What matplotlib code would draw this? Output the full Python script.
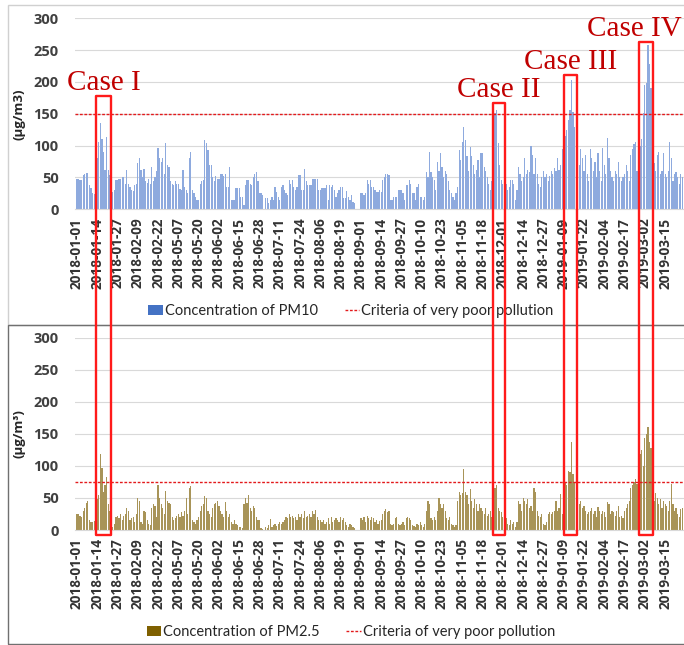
import matplotlib
matplotlib.use('Agg')
import matplotlib.pyplot as plt
import numpy as np
import pandas as pd
from matplotlib.patches import Rectangle, Patch
from matplotlib.lines import Line2D

# ---------------- data ----------------
# category axis: daily dates (March-April 2018 absent from the record)
dates = (list(pd.date_range('2018-01-01', '2018-03-06').strftime('%Y-%m-%d')) +
         list(pd.date_range('2018-05-07', '2019-03-26').strftime('%Y-%m-%d')))

pm10 = [
    48, 48, 46, 46, 54, 55, 57, 57, 38, 33, 25, 24, 46,
    80, 105, 135, 111, 90, 62, 114, 62, 54, 35, 27, 30, 46,
    46, 47, 48, 50, 50, 40, 62, 40, 35, 30, 28, 38, 40,
    72, 80, 62, 50, 64, 45, 42, 48, 40, 67, 45, 50, 60,
    96, 80, 75, 80, 55, 104, 70, 67, 45, 40, 38, 45, 40,
    40, 32, 30, 62, 35, 30, 25, 80, 90, 30, 25, 20, 15,
    15, 40, 45, 46, 109, 104, 93, 70, 70, 50, 45, 52, 48,
    48, 56, 56, 52, 56, 35, 35, 67, 14, 14, 15, 33, 33,
    33, 20, 20, 6, 38, 46, 46, 40, 38, 51, 55, 59, 45,
    25, 25, 22, 0, 17, 17, 10, 14, 20, 14, 35, 27, 20,
    14, 35, 38, 30, 25, 22, 46, 40, 46, 35, 30, 35, 54,
    54, 30, 30, 64, 45, 38, 38, 38, 48, 48, 48, 48, 30,
    30, 33, 33, 33, 38, 14, 38, 35, 38, 30, 20, 25, 30,
    35, 35, 17, 17, 28, 20, 15, 22, 12, 10, 0, 0, 0,
    25, 25, 22, 25, 46, 40, 46, 35, 35, 30, 27, 27, 30,
    27, 46, 50, 56, 56, 54, 14, 14, 20, 20, 20, 30, 30,
    30, 25, 15, 38, 38, 46, 40, 25, 25, 15, 35, 40, 20,
    20, 15, 20, 59, 50, 90, 59, 50, 46, 30, 75, 60, 88,
    67, 51, 60, 56, 45, 30, 25, 20, 14, 25, 35, 93, 77,
    106, 130, 109, 83, 60, 98, 83, 70, 55, 62, 77, 50, 88,
    88, 67, 60, 51, 40, 30, 45, 109, 151, 156, 104, 70, 46,
    40, 35, 40, 30, 35, 46, 46, 40, 14, 30, 67, 55, 45,
    51, 80, 55, 62, 58, 100, 85, 56, 80, 56, 40, 35, 50,
    60, 50, 55, 45, 52, 60, 55, 65, 60, 80, 62, 70, 95,
    100, 115, 124, 140, 156, 203, 153, 130, 110, 105, 70, 95, 80,
    60, 85, 55, 45, 95, 80, 60, 75, 50, 88, 60, 45, 96,
    70, 55, 112, 80, 60, 50, 45, 60, 55, 75, 50, 45, 50,
    55, 70, 60, 45, 85, 95, 103, 105, 60, 70, 100, 110, 151,
    195, 199, 258, 229, 190, 151, 72, 60, 85, 90, 55, 60, 88,
    55, 50, 60, 105, 80, 45, 55, 58, 50, 40, 55, 50,
]

pm25 = [
    25, 25, 22, 20, 30, 35, 42, 45, 15, 12, 12, 14, 15,
    48, 55, 118, 97, 60, 70, 82, 40, 30, 8, 5, 10, 20,
    22, 18, 25, 15, 22, 25, 35, 30, 15, 18, 20, 12, 25,
    50, 45, 12, 10, 30, 28, 15, 10, 8, 35, 40, 38, 20,
    70, 50, 40, 35, 25, 61, 45, 42, 40, 20, 15, 18, 22,
    25, 20, 28, 22, 30, 50, 25, 66, 68, 15, 12, 10, 15,
    20, 30, 38, 40, 53, 50, 30, 25, 20, 35, 40, 42, 45,
    38, 30, 25, 20, 43, 30, 20, 25, 12, 10, 15, 10, 8,
    5, 5, 3, 40, 50, 42, 55, 35, 30, 38, 35, 20, 15,
    15, 3, 2, 0, 5, 3, 8, 17, 5, 8, 10, 6, 10,
    12, 10, 12, 15, 20, 18, 25, 20, 22, 18, 20, 15, 25,
    20, 25, 18, 30, 20, 22, 25, 20, 30, 25, 31, 20, 15,
    15, 12, 15, 10, 12, 18, 10, 20, 12, 15, 18, 15, 12,
    20, 15, 18, 12, 8, 5, 10, 8, 5, 3, 0, 0, 0,
    18, 15, 20, 12, 22, 18, 15, 20, 18, 12, 15, 10, 14,
    15, 25, 30, 32, 28, 30, 10, 8, 10, 18, 20, 10, 8,
    10, 12, 8, 18, 20, 18, 15, 8, 6, 5, 10, 8, 12,
    8, 5, 10, 30, 45, 40, 18, 15, 20, 15, 30, 50, 40,
    35, 40, 30, 18, 15, 20, 10, 8, 5, 8, 45, 60, 55,
    58, 95, 60, 55, 40, 64, 45, 35, 48, 40, 30, 40, 35,
    30, 25, 35, 22, 25, 30, 20, 45, 66, 70, 35, 30, 28,
    20, 22, 18, 10, 8, 15, 10, 12, 5, 12, 45, 40, 30,
    50, 45, 40, 48, 35, 38, 30, 66, 60, 30, 22, 20, 25,
    10, 8, 12, 25, 28, 25, 28, 30, 45, 30, 35, 56, 25,
    30, 74, 70, 92, 90, 138, 87, 75, 70, 69, 40, 45, 35,
    38, 30, 25, 28, 30, 35, 25, 30, 20, 36, 30, 25, 30,
    28, 20, 43, 40, 25, 30, 28, 22, 30, 38, 20, 22, 18,
    30, 35, 40, 45, 66, 70, 75, 80, 72, 50, 118, 125, 100,
    144, 150, 160, 138, 128, 66, 45, 58, 50, 40, 48, 35, 45,
    40, 38, 30, 45, 72, 40, 30, 35, 25, 20, 33, 35,
]

pm10_threshold = 150
pm25_threshold = 75

tick_labels = dates[::13]

case_names = ['Case I', 'Case II', 'Case III', 'Case IV']
case_start = ['2018-01-14', '2018-11-25', '2019-01-10', '2019-02-27']
case_end = ['2018-01-22', '2018-12-02', '2019-01-17', '2019-03-07']
case_box_top = [178, 167, 211, 263]   # in PM10 panel units

# ---------------- figure ----------------
W, H = 684, 645
fig = plt.figure(figsize=(W / 100, H / 100), dpi=100)
FAM = ['Open Sans', 'DejaVu Sans']
LEG_FAM = ['Lato', 'DejaVu Sans']
plt.rcParams['font.family'] = LEG_FAM

def rect_px(x0, y0, x1, y1):
    return [x0 / W, 1 - y1 / H, (x1 - x0) / W, (y1 - y0) / H]

ax1 = fig.add_axes(rect_px(75.4, 18.3, 684, 209.3))
ax2 = fig.add_axes(rect_px(75.4, 337.7, 684, 530.0))

idx = np.arange(len(dates))
tick_pos = idx[::13]

def style(ax, values, color, thr, ylabel):
    ax.bar(idx, values, width=0.78, color=color, linewidth=0, zorder=2)
    ax.axhline(thr, color='#e31a1c', lw=1.0, ls=(0, (2, 1.2)), zorder=3)
    ax.set_xlim(-1, 389.1)
    ax.set_ylim(0, 300)
    ax.set_yticks(np.arange(0, 301, 50))
    ax.set_yticklabels([str(v) for v in range(0, 301, 50)], fontsize=10.5,
                       fontweight='bold', color='#404040', family=FAM)
    ax.yaxis.grid(True, color='#d9d9d9', lw=0.8, zorder=0)
    ax.set_axisbelow(True)
    for s in ['top', 'right', 'left']:
        ax.spines[s].set_visible(False)
    ax.spines['bottom'].set_color('#d9d9d9')
    ax.spines['bottom'].set_linewidth(0.8)
    ax.set_xticks(tick_pos)
    ax.set_xticklabels(tick_labels, rotation=90, fontsize=9.8,
                       fontweight='bold', color='#333333', family=FAM)
    ax.tick_params(axis='both', length=0)
    ax.tick_params(axis='x', pad=6)
    ax.tick_params(axis='y', pad=12)
    ax.set_ylabel(ylabel, fontsize=9.5, fontweight='bold', color='#262626',
                  family=FAM)

style(ax1, pm10, '#8eaade', pm10_threshold, '(μg/m3)')
style(ax2, pm25, '#a89458', pm25_threshold, '(μg/m³)')
ax1.yaxis.set_label_coords(-0.082, 0.5)
ax2.yaxis.set_label_coords(-0.082, 0.5)

# legends
def add_legend(swatch_color, label, ycen):
    handles = [Patch(facecolor=swatch_color, edgecolor='none'),
               Line2D([0], [0], color='#e31a1c', lw=1.0, ls=(0, (2, 1.2)))]
    labels = [label, 'Criteria of very poor pollution']
    fig.legend(handles, labels, loc='center', bbox_to_anchor=(351 / W, 1 - ycen / H),
               ncol=2, frameon=False, fontsize=10.5, handlelength=1.0,
               handleheight=0.7, handletextpad=0.15, columnspacing=1.8,
               labelcolor='#262626')

add_legend('#4472c4', 'Concentration of PM10', 311)
add_legend('#7f6000', 'Concentration of PM2.5', 632)

# panel frames
fig.add_artist(Rectangle((8 / W, 1 - 325 / H), 1, (325 - 5) / H,
                         transform=fig.transFigure, fill=False,
                         ec='#d0d0d0', lw=1.0))
fig.add_artist(Rectangle((8 / W, 1 - 644 / H), 1, (644 - 325) / H,
                         transform=fig.transFigure, fill=False,
                         ec='#707070', lw=1.0))

# case boxes spanning both panels
inv = fig.transFigure.inverted()
for k, (name, s, e, top) in enumerate(zip(case_names, case_start, case_end, case_box_top)):
    i0 = dates.index(s) - 0.5
    i1 = dates.index(e) + 0.5
    x0, y_top = inv.transform(ax1.transData.transform((i0, top)))
    x1, y_bot = inv.transform(ax2.transData.transform((i1, -8)))
    fig.add_artist(Rectangle((x0, y_bot), x1 - x0, y_top - y_bot,
                             transform=fig.transFigure, fill=False,
                             ec='#ff1a1a', lw=1.7, joinstyle='round', zorder=10))
    if k == len(case_names) - 1:
        fig.text(682 / W, y_top + 6 / H, name, ha='right', va='baseline',
                 fontsize=21, color='#c00000', family='Liberation Serif')
    else:
        fig.text((x0 + x1) / 2, y_top + 6 / H, name, ha='center', va='baseline',
                 fontsize=21, color='#c00000', family='Liberation Serif')

fig.savefig('out.png', dpi=100)
